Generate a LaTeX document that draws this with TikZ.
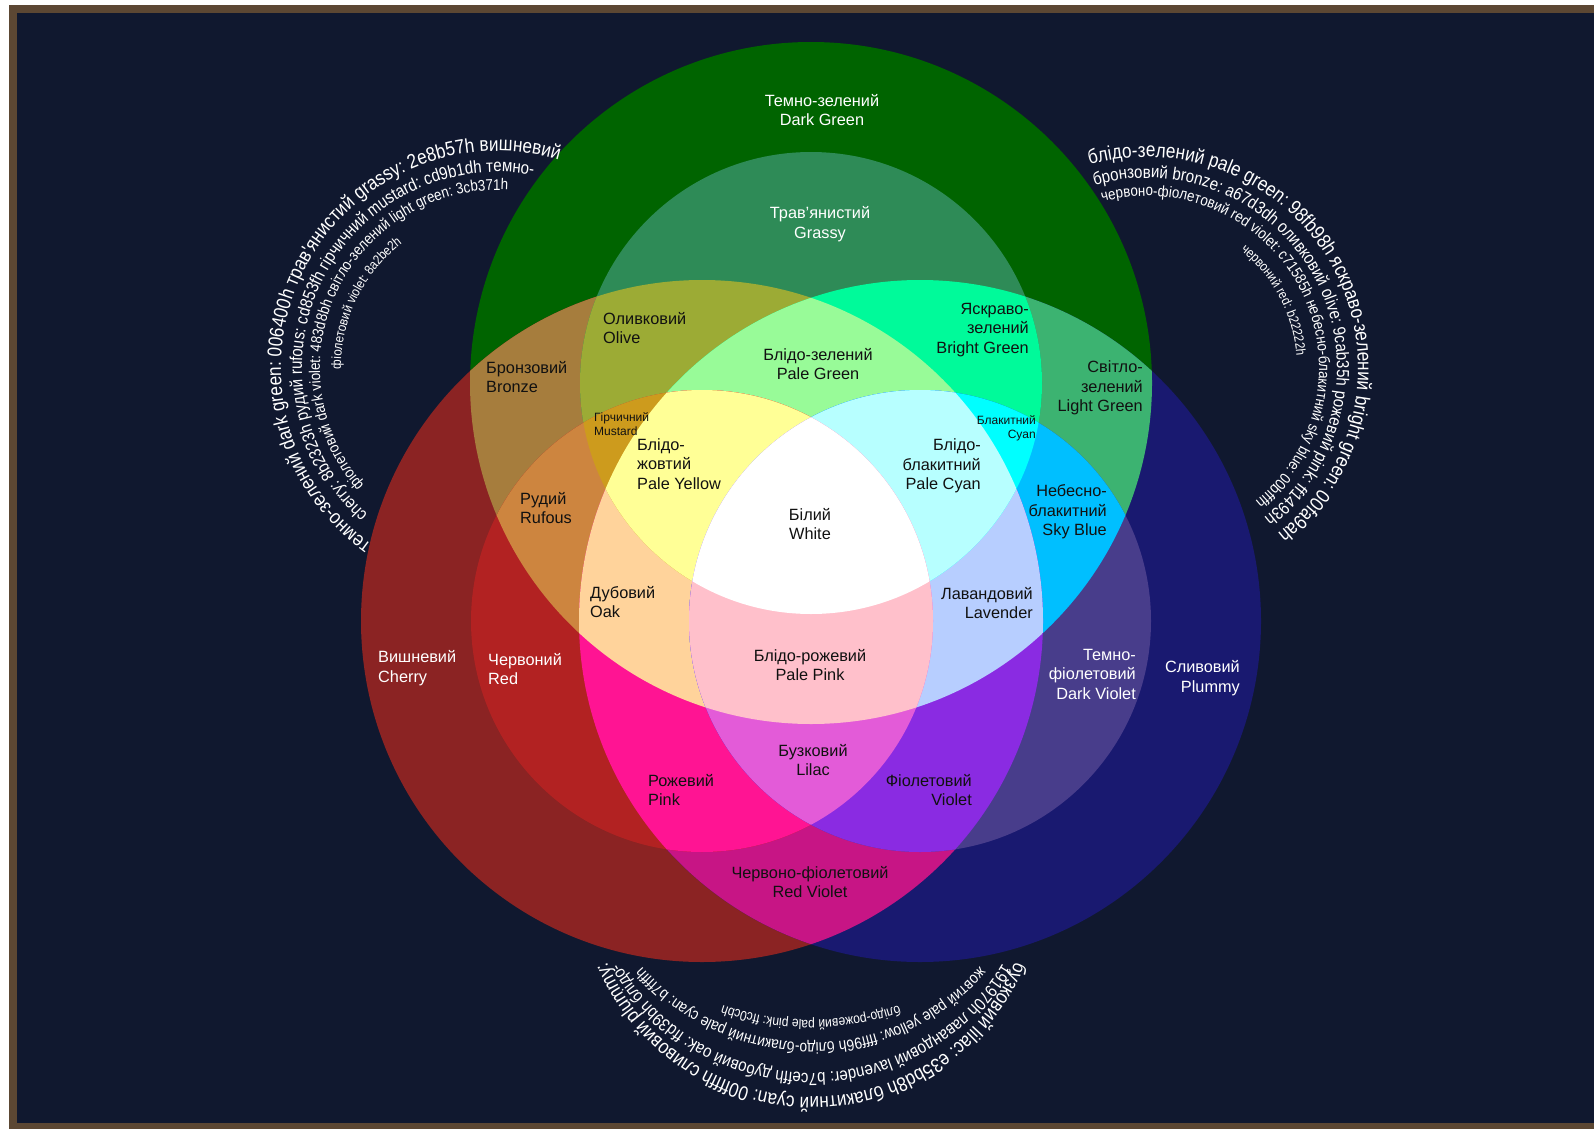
\documentclass[tikz,border=0pt]{standalone}
\usepackage{fontspec}
\setmainfont{Liberation Sans}
\newfontfamily\arcfont[FakeStretch=0.86]{Liberation Sans}
\usetikzlibrary{decorations.text,calc}
\definecolor{cFrame}{HTML}{5C4733}
\definecolor{cBg}{HTML}{10182F}
\definecolor{cDarkGreen}{HTML}{006400}
\definecolor{cGrassy}{HTML}{2E8B57}
\definecolor{cCherry}{HTML}{8B2323}
\definecolor{cRufous}{HTML}{CD853F}
\definecolor{cMustard}{HTML}{CD9B1D}
\definecolor{cDarkViolet}{HTML}{483D8B}
\definecolor{cLightGreen}{HTML}{3CB371}
\definecolor{cViolet}{HTML}{8A2BE2}
\definecolor{cPaleGreen}{HTML}{98FB98}
\definecolor{cBrightGreen}{HTML}{00FA9A}
\definecolor{cBronze}{HTML}{A67D3D}
\definecolor{cOlive}{HTML}{9CAB35}
\definecolor{cPink}{HTML}{FF1493}
\definecolor{cRedViolet}{HTML}{C71585}
\definecolor{cSkyBlue}{HTML}{00BFFF}
\definecolor{cRed}{HTML}{B22222}
\definecolor{cLilac}{HTML}{E35BD8}
\definecolor{cCyan}{HTML}{00FFFF}
\definecolor{cPlummy}{HTML}{191970}
\definecolor{cLavender}{HTML}{B7CEFF}
\definecolor{cOak}{HTML}{FFD39B}
\definecolor{cPaleYellow}{HTML}{FFFF96}
\definecolor{cPaleCyan}{HTML}{B7FFFF}
\definecolor{cPalePink}{HTML}{FFC0CB}
\definecolor{cInk}{HTML}{111111}
\def\cBG{(811,-383) circle[radius=341]}
\def\cBR{(702,-621) circle[radius=341]}
\def\cBB{(920,-621) circle[radius=341]}
\def\cMG{(811,-383) circle[radius=231]}
\def\cMR{(702,-621) circle[radius=231]}
\def\cMB{(920,-621) circle[radius=231]}
\newcommand\arcline[6]{%
  \path[decorate,decoration={text along path,text align=center,
    text={|\arcfont\fontsize{#5}{#5}\selectfont\color{white}|#6}}]
    ($(#1,#2)+({#4+110}:#3)$) arc[start angle={#4+110},end angle={#4-110},radius=#3];}
\tikzset{
  lbl/.style={inner sep=0pt,text=cInk,font=\fontsize{16.3}{19.5}\selectfont},
  lblw/.style={lbl,text=white},
  small/.style={inner sep=0pt,text=cInk,font=\fontsize{12}{14}\selectfont},
  lft/.style={anchor=west,align=left},
  rgt/.style={anchor=east,align=right},
  ctr/.style={anchor=center,align=center}
}
\begin{document}
\begin{tikzpicture}[x=1pt,y=1pt]
\useasboundingbox (0,0) rectangle (1594,-1129);
\fill[white] (0,0) rectangle (1594,-1129);
\fill[cFrame] (9,-5) rectangle (1594,-1129);
\fill[cBg] (17,-13) rectangle (1594,-1123);
% big circles
\fill[cDarkGreen] \cBG;
\fill[cCherry] \cBR;
\fill[cPlummy] \cBB;
\begin{scope}\clip \cBG; \fill[cBronze] \cBR; \fill[cLightGreen] \cBB; \end{scope}
\begin{scope}\clip \cBR; \fill[cRedViolet] \cBB; \end{scope}
% medium green
\fill[cGrassy] \cMG;
\begin{scope}\clip \cMG; \fill[cOlive] \cBR; \fill[cBrightGreen] \cBB;
  \clip \cBR; \fill[cPaleGreen] \cBB; \end{scope}
% medium red
\fill[cRed] \cMR;
\begin{scope}\clip \cMR; \fill[cRufous] \cBG; \fill[cPink] \cBB;
  \clip \cBG; \fill[cOak] \cBB; \end{scope}
% medium blue
\fill[cDarkViolet] \cMB;
\begin{scope}\clip \cMB; \fill[cSkyBlue] \cBG; \fill[cViolet] \cBR;
  \clip \cBG; \fill[cLavender] \cBR; \end{scope}
% pair intersections
\begin{scope}\clip \cMG; \fill[cMustard] \cMR; \clip \cMR; \fill[cPaleYellow] \cBB; \end{scope}
\begin{scope}\clip \cMG; \fill[cCyan] \cMB; \clip \cMB; \fill[cPaleCyan] \cBR; \end{scope}
\begin{scope}\clip \cMR; \fill[cLilac] \cMB; \clip \cMB; \fill[cPalePink] \cBG; \end{scope}
\begin{scope}\clip \cMG; \clip \cMR; \fill[white] \cMB; \end{scope}
% labels
\node[lblw,ctr] (darkgreen) at (822,-110) {Темно-зелений\\Dark Green};
\node[lblw,ctr] (grassy) at (820,-224) {Трав'янистий\\Grassy};
\node[lbl,lft] (olive) at (603,-328) {Оливковий\\Olive};
\node[lbl,lft] (bronze) at (486,-377) {Бронзовий\\Bronze};
\node[lbl,ctr] (palegreen) at (818,-364) {Блідо-зелений\\Pale Green};
\node[lbl,rgt] (brightgreen) at (1029,-330) {Яскраво-\\зелений\\Bright Green};
\node[lbl,rgt] (lightgreen) at (1143,-388) {Світло-\\зелений\\Light Green};
\node[small,lft] (mustard) at (594,-424) {Гірчичний\\Mustard};
\node[small,rgt] (cyan) at (1036,-428) {Блакитний\\Cyan};
\node[lbl,lft] (paleyellow) at (637,-464) {Блідо-\\жовтий\\Pale Yellow};
\node[lbl,rgt] (palecyan) at (981,-466) {Блідо-\\блакитний\\Pale Cyan};
\node[lbl,ctr] (white) at (810,-524) {Білий\\White};
\node[lbl,lft] (rufous) at (520,-508) {Рудий\\Rufous};
\node[lbl,rgt] (skyblue) at (1107,-512) {Небесно-\\блакитний\\Sky Blue};
\node[lbl,lft] (oak) at (590,-602) {Дубовий\\Oak};
\node[lbl,rgt] (lavender) at (1033,-603) {Лавандовий\\Lavender};
\node[lblw,lft] (cherry) at (378,-668) {Вишневий\\Cherry};
\node[lblw,lft] (red) at (488,-669) {Червоний\\Red};
\node[lbl,ctr] (palepink) at (810,-665) {Блідо-рожевий\\Pale Pink};
\node[lblw,rgt] (darkviolet) at (1136,-674) {Темно-\\фіолетовий\\Dark Violet};
\node[lblw,rgt] (plummy) at (1240,-678) {Сливовий\\Plummy};
\node[lbl,ctr] (lilac) at (813,-760) {Бузковий\\Lilac};
\node[lbl,lft] (pink) at (648,-790) {Рожевий\\Pink};
\node[lbl,rgt] (violet) at (972,-790) {Фіолетовий\\Violet};
\node[lbl,ctr] (redviolet) at (810,-882) {Червоно-фіолетовий\\Red Violet};
% curved legend text, left block
\arcline{498}{-368}{217}{154}{20}{темно-зелений dark green: 006400h трав'янистий grassy: 2e8b57h вишневий}
\arcline{498}{-368}{196}{154}{17.5}{cherry: 8b2323h рудий rufous: cd853fh гірчичний mustard: cd9b1dh темно-}
\arcline{498}{-368}{178}{154}{15.5}{фіолетовий dark violet: 483d8bh світло-зелений light green: 3cb371h}
\arcline{498}{-368}{157}{154}{13.5}{фіолетовий violet: 8a2be2h}
% right block
\arcline{1147}{-368}{211}{27}{20}{блідо-зелений pale green: 98fb98h яскраво-зелений bright green: 00fa9ah}
\arcline{1147}{-368}{190}{27}{17.5}{бронзовий bronze: a67d3dh оливковий olive: 9cab35h рожевий pink: ff1493h}
\arcline{1147}{-368}{172}{27}{15.5}{червоно-фіолетовий red violet: c71585h небесно-блакитний sky blue: 00bfffh}
\arcline{1147}{-368}{150}{28}{13.5}{червоний red: b22222h}
% bottom block
\arcline{811}{-875}{222}{270}{20}{бузковий lilac: e35bd8h блакитний cyan: 00ffffh сливовий plummy:}
\arcline{811}{-851}{222}{270}{17.5}{191970h лавандовий lavender: b7ceffh дубовий oak: ffd39bh блідо-}
\arcline{811}{-818}{225}{270}{16}{жовтий pale yellow: ffff96h блідо-блакитний pale cyan: b7ffffh}
\arcline{811}{-752}{268}{270}{14}{блідо-рожевий pale pink: ffc0cbh}
\end{tikzpicture}
\end{document}
